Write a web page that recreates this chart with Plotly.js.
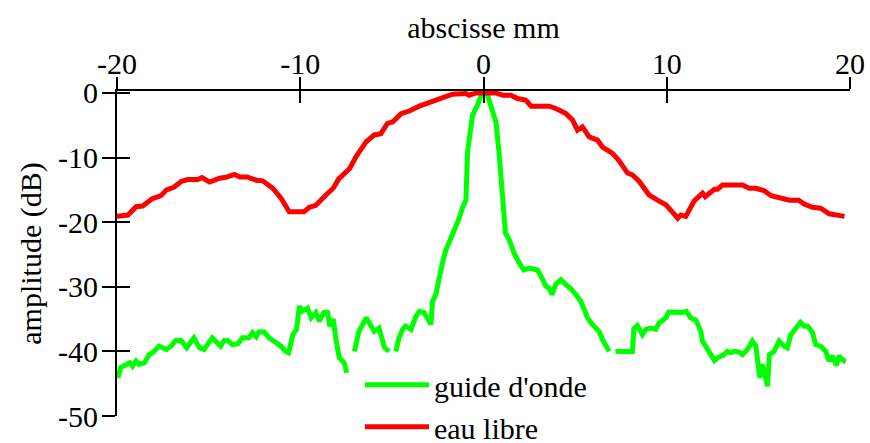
<!DOCTYPE html>
<html>
<head>
<meta charset="utf-8">
<script src="https://cdn.plot.ly/plotly-3.0.1.min.js"></script>
<style>html,body{margin:0;padding:0;background:#fff;}#chart{width:870px;height:443px;}</style>
</head>
<body>
<div id="chart"></div>
<script>
// eau libre (red)
const eauX = [
  -20, -19.4, -18.96, -18.6, -18.1, -17.6, -17.3, -16.9, -16.5, -16.15,
  -15.6, -15.36, -14.95, -14.4, -14.05, -13.6, -13.3, -12.9, -12.4, -12.05,
  -11.5, -11.05, -10.6, -9.8, -9.5, -9.15, -8.6, -8.2, -7.9, -7.3,
  -6.96, -6.4, -5.96, -5.6, -5.24, -4.96, -4.5, -4.05, -3.5, -3.14,
  -2.6, -2.05, -1.7, -0.96, -0.78, -0.4, 0.68, 1.04, 1.5, 1.85,
  2.3, 2.6, 3.04, 3.58, 3.95, 4.5, 4.86, 5.13, 5.4, 5.77,
  6.22, 6.5, 7.04, 7.4, 7.86, 8.13, 8.5, 9.04, 9.5, 9.95,
  10.3, 10.6, 10.77, 11.04, 11.5, 11.77, 11.95, 12.1, 12.6, 12.77,
  13.04, 14.13, 14.5, 14.86, 15.3, 15.7, 16.1, 16.7, 17.2, 17.5,
  17.95, 18.4, 18.86, 19.2, 19.7
];
const eauY = [
  -19.1, -18.9, -17.6, -17.5, -16.4, -15.9, -15.0, -14.6, -13.7, -13.4,
  -13.4, -13.1, -13.8, -13.2, -13.05, -12.6, -13.0, -13.0, -13.5, -13.6,
  -14.75, -16.3, -18.4, -18.4, -17.7, -17.4, -15.8, -14.75, -13.3, -11.7,
  -9.9, -7.55, -6.5, -6.3, -4.7, -4.5, -3.2, -2.8, -2.05, -1.64,
  -1.2, -0.6, -0.2, -0.1, -0.35, 0, 0, -0.35, -0.35, -0.87,
  -1.1, -2.05, -2.05, -2.05, -2.4, -3.2, -4.2, -5.75, -5.25, -6.8,
  -7.3, -8.4, -9.35, -10.5, -12.4, -12.7, -13.7, -15.8, -16.6, -17.3,
  -18.4, -19.4, -18.9, -19.1, -16.7, -16.05, -15.5, -16.05, -14.9, -14.9,
  -14.25, -14.25, -14.75, -14.75, -15.1, -15.9, -16.15, -16.6, -16.6, -17.2,
  -17.7, -17.85, -18.7, -18.9, -19.1
];

// guide d'onde (green) — null marks a gap in the measured trace
const guideX = [
  -19.95, -19.8, -19.3, -19.15, -18.96, -18.8, -18.5, -18.25, -18.06, -17.7,
  -17.3, -17.05, -16.8, -16.5, -16.2, -15.8, -15.5, -15.25, -14.8, -14.5,
  -14.35, -14.15, -13.97, -13.7, -13.4, -13.15, -12.8, -12.6, -12.4, -12.25,
  -11.97, -11.7, -11.3, -11.05, -10.8, -10.64, -10.4, -10.2, -10.05, -9.9,
  -9.6, -9.4, -9.15, -8.96, -8.7, -8.5, -8.4, -8.2, -8.05, -7.87,
  -7.6, -7.47, -7.3, -7.05, -6.8, -6.4, -6.24, -5.96, -5.7, -5.55,
  -5.4, -5.15, -5.0, -4.78, -4.62, -4.4, -4.24, -3.96, -3.69, -3.5,
  -3.24, -2.87, -2.78, -2.6, -2.42, -2.24, -2.05, -1.78, -1.6, -1.33,
  -1.15, -0.96, -0.87, -0.6, -0.33, -0.12, 0.05, 0.22, 0.3, 0.5,
  0.68, 0.85, 0.95, 1.04, 1.2, 1.4, 1.67, 1.95, 2.2, 2.5,
  2.95, 3.2, 3.4, 3.58, 3.73, 3.95, 4.22, 4.5, 4.77, 5.04,
  5.3, 5.5, 5.67, 5.95, 6.13, 6.3, 6.5, 6.77, 6.86, 7.0,
  7.2, 8.13, 8.2, 8.4, 8.67, 8.86, 9.13, 9.4, 9.58, 9.77,
  9.95, 10.1, 10.6, 10.77, 11.07, 11.3, 11.6, 11.86, 11.95, 12.2,
  12.4, 12.6, 12.77, 13.13, 13.3, 13.5, 13.68, 13.95, 14.13, 14.4,
  14.67, 14.86, 15.0, 15.08, 15.2, 15.3, 15.5, 15.6, 15.86, 16.13,
  16.4, 16.58, 16.77, 17.04, 17.3, 17.5, 17.7, 17.95, 18.13, 18.4,
  18.68, 18.86, 19.04, 19.26, 19.4, 19.68, 19.77
];
const guideY = [
  -44.1, -42.5, -41.75, -42.3, -41.5, -42.0, -41.75, -40.5, -40.2, -39.2,
  -39.7, -39.2, -38.3, -38.3, -39.45, -37.9, -39.45, -39.7, -37.9, -38.7,
  -39.2, -38.3, -38.3, -38.95, -38.8, -37.9, -37.9, -37.1, -37.75, -37.0,
  -37.0, -37.9, -38.7, -39.2, -40.0, -40.2, -37.4, -36.6, -33.0, -33.8,
  -33.3, -34.8, -34.0, -35.3, -33.95, -34.0, -36.1, -35.0, -38.2, -41.0,
  -41.75, -43.3, null, -40.0, -36.9, -34.8, -35.6, -36.9, -36.4, -37.65,
  -39.45, -40.0, null, -40.0, -38.0, -36.5, -36.1, -36.6, -34.6, -33.8,
  -34.0, -35.85, -32.25, -31.2, -28.6, -26.3, -24.3, -22.5, -21.45, -19.4,
  -17.8, -16.6, -9.1, -3.5, -1.9, -0.35, 0, -0.3, -1.1, -2.7,
  -4.5, -9.3, -13.5, -17.4, -21.7, -22.7, -24.8, -26.3, -27.4, -27.1,
  -27.4, -28.7, -29.9, -30.2, -31.2, -29.6, -28.9, -29.7, -30.3, -31.2,
  -32.25, -33.5, -34.8, -35.85, -36.4, -36.9, -38.2, -39.8, -40.0, null,
  -40.0, -40.0, -36.5, -36.0, -37.4, -36.6, -36.4, -36.6, -35.6, -35.1,
  -34.8, -33.9, -33.9, -34.0, -33.8, -34.8, -35.2, -36.9, -38.4, -39.7,
  -40.7, -41.4, -41.0, -40.5, -40.0, -40.2, -40.0, -40.1, -40.5, -39.7,
  -38.4, -39.2, -42.3, -44.1, -42.0, -42.8, -45.4, -40.5, -40.0, -38.4,
  -39.2, -39.45, -37.4, -36.4, -35.5, -36.1, -36.1, -37.1, -38.95, -39.2,
  -40.0, -41.5, -40.7, -42.2, -40.7, -41.5, -41.6
];

const xTicks = [-20, -10, 0, 10, 20];
const xTickText = ['-20', '-10', '0', '10', '20'];
const yTicks = [0, -10, -20, -30, -40, -50];
const yTickText = ['0', '-10', '-20', '-30', '-40', '-50'];

const FONT = 'Liberation Serif, Times New Roman, DejaVu Serif, serif';
const FS = 30;

const traces = [
  {x: guideX, y: guideY, type: 'scatter', mode: 'lines', name: "guide d'onde",
   legendgroup: 'g', connectgaps: false, line: {color: '#00ff00', width: 5}},
  {x: eauX, y: eauY, type: 'scatter', mode: 'lines', name: 'eau libre',
   legendgroup: 'e', line: {color: '#ff0000', width: 5}},
  // empty trace so the overlaid tick-only axes (inner half of the cross ticks) get drawn
  {x: [], y: [], type: 'scatter', mode: 'lines', xaxis: 'x2', yaxis: 'y2',
   showlegend: false, hoverinfo: 'skip'}
];

const layout = {
  width: 870, height: 443,
  margin: {l: 117, r: 20, t: 91, b: 27, autoexpand: false},
  paper_bgcolor: '#fff', plot_bgcolor: '#fff',
  font: {family: FONT, size: FS, color: '#000'},
  showlegend: true,
  legend: {x: 0.3315, y: 0.176, xanchor: 'left', yanchor: 'top',
           bgcolor: 'rgba(0,0,0,0)', borderwidth: 0, traceorder: 'grouped',
           tracegroupgap: 0, itemwidth: 64, font: {family: FONT, size: FS}},
  xaxis: {range: [-20, 20], side: 'top', anchor: 'y', tickmode: 'array',
          tickvals: xTicks, ticktext: xTickText, ticklabelstandoff: -9,
          ticks: 'outside', ticklen: 12, tickwidth: 2, tickcolor: '#000',
          showline: true, linewidth: 2, linecolor: '#000', showgrid: false, zeroline: false,
          title: {text: 'abscisse mm', standoff: 0, font: {family: FONT, size: FS}},
          tickfont: {family: FONT, size: FS}},
  xaxis2: {range: [-20, 20], overlaying: 'x', side: 'top', anchor: 'y', tickmode: 'array',
           tickvals: xTicks, ticks: 'inside', ticklen: 12, tickwidth: 2, tickcolor: '#000',
           showticklabels: false, showline: false, showgrid: false, zeroline: false},
  yaxis: {range: [-50, 0.3], anchor: 'x', tickmode: 'array',
          tickvals: yTicks, ticktext: yTickText, ticklabelstandoff: -2,
          ticks: 'outside', ticklen: 13, tickwidth: 2, tickcolor: '#000',
          showline: true, linewidth: 2, linecolor: '#000', showgrid: false, zeroline: false,
          title: {text: 'amplitude (dB)', standoff: 8, font: {family: FONT, size: FS}},
          tickfont: {family: FONT, size: FS}},
  yaxis2: {range: [-50, 0.3], overlaying: 'y', side: 'left', anchor: 'x', tickmode: 'array',
           tickvals: yTicks, ticks: 'inside', ticklen: 13, tickwidth: 2, tickcolor: '#000',
           showticklabels: false, showline: false, showgrid: false, zeroline: false}
};

Plotly.newPlot('chart', traces, layout, {displayModeBar: false, staticPlot: true});
</script>
</body>
</html>
